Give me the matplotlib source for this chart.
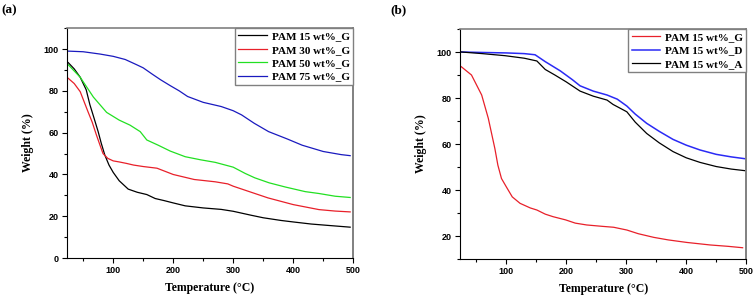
import matplotlib
matplotlib.use("Agg")
import matplotlib.pyplot as plt
from matplotlib.ticker import MultipleLocator

# ---- Data (a) ----
a_black_T = [25, 35, 45, 55, 61, 68, 75, 80, 86, 93, 100, 110, 125, 140, 156, 170, 185, 200, 220, 250, 280, 300, 330, 350, 380, 400, 430, 460, 495]
a_black_W = [93.5, 90.5, 86.5, 80.5, 73.5, 67, 60.4, 55, 49.3, 44.5, 41, 37, 33, 31.5, 30.4, 28.5, 27.5, 26.4, 25, 24, 23.3, 22.4, 20.5, 19.3, 18, 17.3, 16.3, 15.6, 14.8]

a_red_T = [25, 35, 45, 58, 65, 72, 78, 83, 91, 100, 110, 122, 134, 150, 173, 200, 235, 270, 291, 300, 330, 358, 400, 443, 470, 495]
a_red_W = [86, 83.5, 79.6, 70, 65, 58.9, 54, 50, 47.7, 46.5, 46, 45.3, 44.5, 43.8, 43, 40, 37.6, 36.5, 35.5, 34.4, 31.5, 28.8, 25.6, 23.2, 22.5, 22.1]

a_green_T = [25, 45, 67, 89, 110, 128, 145, 156, 175, 195, 220, 246, 270, 300, 320, 336, 360, 387, 420, 443, 470, 495]
a_green_W = [92.5, 86.5, 77, 69.7, 66, 63.6, 60.5, 56.5, 54, 51.2, 48.5, 47, 45.8, 43.5, 40.5, 38.4, 36, 34, 31.8, 30.9, 29.6, 29]

a_blue_T = [25, 50, 78, 100, 120, 139, 150, 165, 179, 195, 210, 224, 250, 280, 300, 314, 335, 359, 390, 415, 450, 480, 495]
a_blue_W = [99, 98.7, 97.6, 96.5, 95, 92.5, 91, 88, 85.3, 82.5, 80, 77.3, 74.5, 72.5, 70.5, 68.5, 64.5, 60.5, 57, 54, 51, 49.5, 49]

a_labels = ["PAM 15 wt%_G", "PAM 30 wt%_G", "PAM 50 wt%_G", "PAM 75 wt%_G"]

# ---- Data (b) ----
b_red_T = [25, 42, 59, 70, 81, 86, 92, 100, 110, 123, 140, 151, 165, 178, 199, 215, 234, 260, 279, 301, 320, 346, 370, 401, 440, 470, 494]
b_red_W = [93.6, 90, 81.3, 71.2, 58, 50.8, 45, 41.4, 37, 34.2, 32.2, 31.3, 29.5, 28.4, 27, 25.6, 24.8, 24.2, 23.8, 22.6, 21, 19.4, 18.3, 17.2, 16.1, 15.5, 14.9]

b_blue_T = [25, 60, 100, 130, 148, 165, 190, 210, 223, 245, 268, 285, 301, 315, 334, 355, 378, 400, 423, 450, 475, 498]
b_blue_W = [100, 99.8, 99.6, 99.3, 98.8, 95.8, 91.8, 88, 85.3, 83, 81.3, 79.5, 76.5, 73, 69, 65.5, 62, 59.5, 57.4, 55.5, 54.4, 53.6]

b_black_T = [25, 60, 98, 130, 151, 165, 181, 200, 223, 245, 268, 278, 301, 315, 334, 355, 378, 400, 423, 450, 475, 498]
b_black_W = [100, 99.3, 98.4, 97.3, 96.1, 92.4, 90, 87, 83, 80.8, 79.1, 77.2, 74, 69.5, 64.6, 60.5, 56.7, 54, 52, 50.2, 49.1, 48.4]

b_labels = ["PAM 15 wt%_G", "PAM 15 wt%_D", "PAM 15 wt%_A"]

SERIF = "Liberation Serif"
SANS = "Liberation Sans"

fig = plt.figure(figsize=(7.53, 2.96), dpi=100)
axa = fig.add_axes([0.089, 0.128, 0.380, 0.777])
axb = fig.add_axes([0.611, 0.125, 0.380, 0.777])

def style(ax, ylim, ymaj):
    ax.set_xlim(23, 500)
    ax.set_ylim(*ylim)
    ax.xaxis.set_major_locator(MultipleLocator(100))
    ax.xaxis.set_minor_locator(MultipleLocator(50))
    ax.yaxis.set_major_locator(MultipleLocator(ymaj))
    ax.yaxis.set_minor_locator(MultipleLocator(10))
    ax.tick_params(which="both", direction="out", top=False, right=False, width=0.8, pad=2.5)
    ax.tick_params(which="major", length=3.5)
    ax.tick_params(which="minor", length=2)
    for lab in ax.get_xticklabels() + ax.get_yticklabels():
        lab.set_fontfamily(SANS)
        lab.set_fontweight("bold")
        lab.set_fontsize(6.5)
    ax.spines["left"].set_color("black")
    ax.spines["bottom"].set_color("black")
    ax.spines["top"].set_color("#808080")
    ax.spines["right"].set_color("#808080")
    ax.spines["right"].set_linewidth(1.4)
    ax.spines["top"].set_linewidth(1.2)
    ax.set_xlabel("Temperature (°C)", fontfamily=SERIF, fontweight="bold", fontsize=8.5, labelpad=5)
    ax.set_ylabel("Weight (%)", fontfamily=SERIF, fontweight="bold", fontsize=8.5, labelpad=7)

lw = 0.9
axa.plot(a_black_T, a_black_W, color="black", lw=lw, label=a_labels[0])
axa.plot(a_red_T, a_red_W, color="#e8202a", lw=lw, label=a_labels[1])
axa.plot(a_green_T, a_green_W, color="#22e022", lw=lw, label=a_labels[2])
axa.plot(a_blue_T, a_blue_W, color="#1a1abf", lw=lw, label=a_labels[3])
style(axa, (0, 110), 20)

axb.plot(b_red_T, b_red_W, color="#e8202a", lw=lw, label=b_labels[0])
axb.plot(b_blue_T, b_blue_W, color="#2a2af5", lw=lw + 0.2, label=b_labels[1])
axb.plot(b_black_T, b_black_W, color="black", lw=lw, label=b_labels[2])
style(axb, (10, 110), 20)

for ax in (axa, axb):
    leg = ax.legend(loc="upper right", borderaxespad=0, fancybox=False,
                    prop={"family": SERIF, "weight": "bold", "size": 8},
                    handlelength=2.6, handletextpad=0.4, labelspacing=0.33,
                    borderpad=0.3, framealpha=1)
    leg.get_frame().set_edgecolor("#808080")
    leg.get_frame().set_linewidth(1.0)

fig.text(0.002, 0.965, "(a)", fontfamily=SERIF, fontweight="bold", fontsize=9.5, va="center")
fig.text(0.519, 0.965, "(b)", fontfamily=SERIF, fontweight="bold", fontsize=9.5, va="center")

fig.savefig("out.png", dpi=100)
